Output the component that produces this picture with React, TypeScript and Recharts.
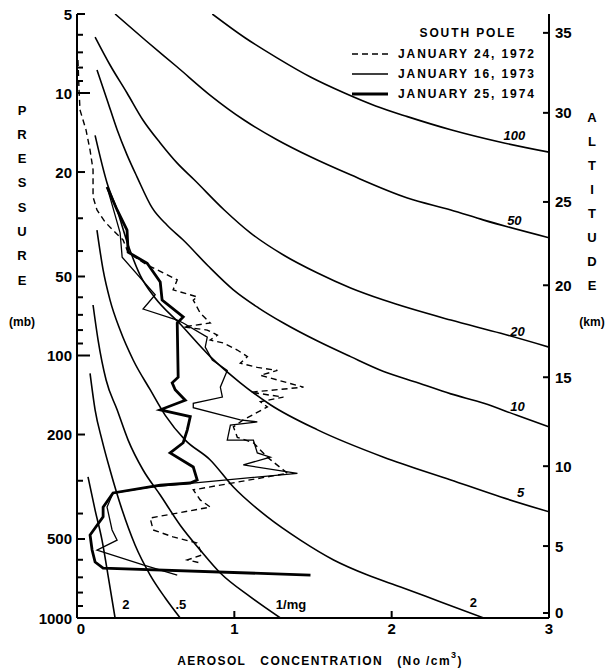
import { ComposedChart, Line, XAxis, YAxis, Legend, Label, ReferenceDot } from "recharts";

const FONT = "'Liberation Sans', Arial, sans-serif";

// pressure axis (mb), log scale
const pressureTicks = [5, 6, 7, 8, 9, 10, 20, 30, 40, 50, 60, 70, 80, 90, 100, 200, 300, 400, 500, 600, 700, 800, 900, 1000];
const pressureLabels = [5, 10, 20, 50, 100, 200, 500, 1000];

// altitude axis: km and the pressure level it sits at
const altitudeKm = [0, 5, 10, 15, 20, 25, 30, 35];
const altitudeP = [957, 532, 264, 121, 54, 26, 11.9, 5.9];

const concTicks = [0, 1, 2, 3];
const topTicks = [1, 2];

const seriesNames = ["JANUARY 24, 1972", "JANUARY 16, 1973", "JANUARY 25, 1974"];

// constant mixing ratio lines (particles per mg of air)
const mr100 = [
  { c: 0.86, p: 5 }, { c: 1.07, p: 6.17 }, { c: 1.274, p: 7.36 }, { c: 1.484, p: 8.69 },
  { c: 1.7, p: 10 }, { c: 1.898, p: 11.2 }, { c: 2.1, p: 12.3 }, { c: 2.376, p: 13.8 },
  { c: 2.694, p: 15.4 }, { c: 3.0, p: 16.8 },
];
const mr50 = [
  { c: 0.242, p: 5 }, { c: 0.433, p: 6.28 }, { c: 0.637, p: 7.96 }, { c: 0.847, p: 10.2 },
  { c: 1.064, p: 12.7 }, { c: 1.274, p: 15.1 }, { c: 1.484, p: 17.5 }, { c: 1.739, p: 20.5 },
  { c: 2.1, p: 25.1 }, { c: 2.376, p: 27.9 }, { c: 2.586, p: 30.5 }, { c: 3.0, p: 35.6 },
];
const mr20 = [
  { c: 0.115, p: 6.12 }, { c: 0.21, p: 7.82 }, { c: 0.318, p: 10 }, { c: 0.42, p: 12.7 },
  { c: 0.529, p: 15.5 }, { c: 0.637, p: 18.5 }, { c: 0.745, p: 21.4 }, { c: 0.936, p: 27.9 },
  { c: 1.102, p: 34.1 }, { c: 1.312, p: 41.4 }, { c: 1.529, p: 48.5 }, { c: 1.739, p: 55.3 },
  { c: 1.949, p: 61.5 }, { c: 2.376, p: 73.3 }, { c: 2.694, p: 82.3 }, { c: 3.0, p: 92.9 },
];
const mr10 = [
  { c: 0.127, p: 8.17 }, { c: 0.191, p: 10.6 }, { c: 0.255, p: 13.8 }, { c: 0.318, p: 17.2 },
  { c: 0.382, p: 20.9 }, { c: 0.478, p: 27.4 }, { c: 0.573, p: 31.9 }, { c: 0.675, p: 36.3 },
  { c: 0.834, p: 45.6 }, { c: 0.994, p: 56.2 }, { c: 1.153, p: 65.8 }, { c: 1.312, p: 75.2 },
  { c: 1.529, p: 88.1 }, { c: 1.739, p: 101 }, { c: 1.949, p: 115 }, { c: 2.166, p: 127 },
  { c: 2.376, p: 140 }, { c: 2.586, p: 152 }, { c: 2.796, p: 169 }, { c: 3.0, p: 187 },
];
const mr5 = [
  { c: 0.115, p: 14.5 }, { c: 0.191, p: 22 }, { c: 0.255, p: 27.9 }, { c: 0.325, p: 37.9 },
  { c: 0.401, p: 49.4 }, { c: 0.497, p: 60.4 }, { c: 0.656, p: 75.9 }, { c: 0.847, p: 101 },
  { c: 1.038, p: 127 }, { c: 1.229, p: 154 }, { c: 1.529, p: 192 }, { c: 1.949, p: 244 },
  { c: 2.376, p: 298 }, { c: 2.694, p: 346 }, { c: 3.0, p: 394 },
];
const mr2 = [
  { c: 0.127, p: 33.3 }, { c: 0.166, p: 47.2 }, { c: 0.21, p: 61.5 }, { c: 0.274, p: 80 },
  { c: 0.357, p: 104 }, { c: 0.465, p: 135 }, { c: 0.561, p: 169 }, { c: 0.688, p: 210 },
  { c: 0.847, p: 250 }, { c: 0.994, p: 317 }, { c: 1.21, p: 412 }, { c: 1.42, p: 505 },
  { c: 1.631, p: 601 }, { c: 1.847, p: 686 }, { c: 2.057, p: 762 }, { c: 2.312, p: 869 },
  { c: 2.586, p: 1000 },
];
const mr1 = [
  { c: 0.102, p: 64.2 }, { c: 0.134, p: 87.3 }, { c: 0.185, p: 124 }, { c: 0.255, p: 161 },
  { c: 0.325, p: 210 }, { c: 0.42, p: 273 }, { c: 0.529, p: 340 }, { c: 0.656, p: 443 },
  { c: 0.783, p: 551 }, { c: 0.911, p: 674 }, { c: 1.102, p: 831 }, { c: 1.293, p: 1000 },
];
const mr05 = [
  { c: 0.083, p: 117 }, { c: 0.115, p: 161 }, { c: 0.159, p: 210 }, { c: 0.21, p: 273 },
  { c: 0.287, p: 388 }, { c: 0.369, p: 527 }, { c: 0.465, p: 686 }, { c: 0.561, p: 839 },
  { c: 0.656, p: 1000 },
];
const mr02 = [
  { c: 0.07, p: 290 }, { c: 0.115, p: 388 }, { c: 0.159, p: 505 }, { c: 0.197, p: 686 },
  { c: 0.242, p: 1000 },
];
const mixingLines = [mr100, mr50, mr20, mr10, mr5, mr2, mr1, mr05, mr02];

// labels on the mixing ratio lines
const curveLabelText = ["100", "50", "20", "10", "5", "2", "1/mg", ".5", "2"];
const curveLabelC = [2.78, 2.78, 2.8, 2.8, 2.82, 2.52, 1.36, 0.66, 0.31];
const curveLabelP = [14.5, 30.5, 81, 157, 332, 872, 885, 885, 885];

// soundings
const jan1972 = [
  { c: 0.006, p: 7.48 }, { c: 0.013, p: 9.74 }, { c: 0.019, p: 11.6 }, { c: 0.057, p: 13.8 },
  { c: 0.083, p: 16.5 }, { c: 0.102, p: 19.6 }, { c: 0.102, p: 24.9 }, { c: 0.127, p: 27.9 },
  { c: 0.178, p: 31 }, { c: 0.242, p: 33.9 }, { c: 0.293, p: 36.3 }, { c: 0.318, p: 39.6 },
  { c: 0.369, p: 42.2 }, { c: 0.446, p: 45.2 }, { c: 0.51, p: 47.2 }, { c: 0.637, p: 51.5 },
  { c: 0.611, p: 56.2 }, { c: 0.764, p: 59.8 }, { c: 0.739, p: 61.5 }, { c: 0.783, p: 68.9 },
  { c: 0.847, p: 75.2 }, { c: 0.675, p: 77.8 }, { c: 0.828, p: 80 }, { c: 0.892, p: 83.6 },
  { c: 0.847, p: 87.3 }, { c: 0.93, p: 89.6 }, { c: 1.019, p: 95.3 }, { c: 1.083, p: 101 },
  { c: 1.038, p: 107 }, { c: 1.146, p: 111 }, { c: 1.274, p: 114 }, { c: 1.166, p: 119 },
  { c: 1.44, p: 132 }, { c: 1.102, p: 138 }, { c: 1.312, p: 144 }, { c: 1.166, p: 150 },
  { c: 1.21, p: 157 }, { c: 1.057, p: 176 }, { c: 0.994, p: 187 }, { c: 1.019, p: 205 },
  { c: 1.121, p: 215 }, { c: 1.21, p: 244 }, { c: 1.338, p: 281 }, { c: 0.739, p: 325 },
  { c: 0.783, p: 355 }, { c: 0.847, p: 378 }, { c: 0.465, p: 416 }, { c: 0.484, p: 462 },
  { c: 0.611, p: 491 }, { c: 0.764, p: 518 }, { c: 0.796, p: 575 }, { c: 0.701, p: 601 },
  { c: 0.783, p: 617 },
];
const jan1973 = [
  { c: 0.191, p: 22.8 }, { c: 0.242, p: 29.2 }, { c: 0.274, p: 34.1 }, { c: 0.287, p: 42.2 },
  { c: 0.497, p: 58.7 }, { c: 0.42, p: 66.5 }, { c: 0.637, p: 73.3 }, { c: 0.675, p: 75.2 },
  { c: 0.828, p: 85.1 }, { c: 0.815, p: 92.9 }, { c: 0.86, p: 104 }, { c: 0.955, p: 114 },
  { c: 0.911, p: 132 }, { c: 0.924, p: 144 }, { c: 0.739, p: 152 }, { c: 0.739, p: 158 },
  { c: 1.038, p: 176 }, { c: 1.146, p: 179 }, { c: 0.975, p: 184 }, { c: 0.955, p: 210 },
  { c: 1.121, p: 210 }, { c: 1.146, p: 235 }, { c: 1.229, p: 244 }, { c: 1.057, p: 261 },
  { c: 1.401, p: 281 }, { c: 0.465, p: 317 }, { c: 0.229, p: 334 }, { c: 0.191, p: 378 },
  { c: 0.223, p: 462 }, { c: 0.255, p: 505 }, { c: 0.127, p: 551 }, { c: 0.42, p: 628 },
  { c: 0.637, p: 686 },
];
const jan1974 = [
  { c: 0.191, p: 22.8 }, { c: 0.255, p: 27.9 }, { c: 0.318, p: 33.3 }, { c: 0.325, p: 40.4 },
  { c: 0.446, p: 44.5 }, { c: 0.529, p: 52.5 }, { c: 0.541, p: 61.5 }, { c: 0.675, p: 71.3 },
  { c: 0.637, p: 75.2 }, { c: 0.643, p: 121 }, { c: 0.605, p: 127 }, { c: 0.624, p: 135 },
  { c: 0.688, p: 148 }, { c: 0.529, p: 161 }, { c: 0.72, p: 171 }, { c: 0.701, p: 192 },
  { c: 0.675, p: 215 }, { c: 0.592, p: 235 }, { c: 0.739, p: 266 }, { c: 0.764, p: 298 },
  { c: 0.72, p: 306 }, { c: 0.529, p: 312 }, { c: 0.229, p: 334 }, { c: 0.166, p: 378 },
  { c: 0.166, p: 412 }, { c: 0.083, p: 483 }, { c: 0.096, p: 551 }, { c: 0.115, p: 612 },
  { c: 0.166, p: 646 }, { c: 1.484, p: 686 },
];

const ink = "#000";
const numStyle = { fontFamily: FONT, fontWeight: 700, fontSize: 15, fill: ink } as const;
const titleStyle = { fontFamily: FONT, fontWeight: 700, fontSize: 13, fill: ink } as const;

function LeftTick({ x, y, payload }: any) {
  const v = payload.value;
  const labelled = pressureLabels.includes(v);
  const len = v === 10 || v === 100 ? 13 : labelled ? 8 : 6;
  return (
    <g>
      <line x1={x} x2={x + len} y1={y} y2={y} stroke={ink} strokeWidth={2} />
      {labelled && (
        <text x={x - 5} y={y} textAnchor="end" dominantBaseline="central" {...numStyle}>
          {v}
        </text>
      )}
    </g>
  );
}

function RightTick({ x, y, payload }: any) {
  const i = altitudeP.indexOf(payload.value);
  return (
    <g>
      <line x1={x - 6} x2={x} y1={y} y2={y} stroke={ink} strokeWidth={2} />
      <text x={x + 6} y={y} textAnchor="start" dominantBaseline="central" {...numStyle}>
        {altitudeKm[i]}
      </text>
    </g>
  );
}

function BottomTick({ x, y, payload }: any) {
  const v = payload.value;
  const inner = v !== 0 && v !== 3;
  return (
    <g>
      {inner && <line x1={x} x2={x} y1={y} y2={y - 7} stroke={ink} strokeWidth={2} />}
      <text x={x + (v === 0 ? 4 : 0)} y={y + 10} textAnchor="middle" dominantBaseline="central" {...numStyle}>
        {v}
      </text>
    </g>
  );
}

function TopTick({ x, y }: any) {
  return <line x1={x} x2={x} y1={y} y2={y + 7} stroke={ink} strokeWidth={2} />;
}

function PressureTitle({ viewBox }: any) {
  const x = viewBox.x + 22;
  return (
    <g>
      {"PRESSURE".split("").map((ch, i) => (
        <text key={i} x={x} y={110 + i * 24.3} textAnchor="middle" dominantBaseline="central" {...titleStyle}>
          {ch}
        </text>
      ))}
      <text x={x} y={322} textAnchor="middle" dominantBaseline="central" {...titleStyle} fontSize={12}>
        (mb)
      </text>
    </g>
  );
}

function AltitudeTitle({ viewBox }: any) {
  const x = viewBox.x + 43;
  return (
    <g>
      {"ALTITUDE".split("").map((ch, i) => (
        <text key={i} x={x} y={117 + i * 24} textAnchor="middle" dominantBaseline="central" {...titleStyle}>
          {ch}
        </text>
      ))}
      <text x={x} y={322} textAnchor="middle" dominantBaseline="central" {...titleStyle} fontSize={12}>
        (km)
      </text>
    </g>
  );
}

function ConcTitle({ viewBox }: any) {
  return (
    <text
      x={viewBox.x + viewBox.width / 2 + 7}
      y={viewBox.y + 43}
      textAnchor="middle"
      dominantBaseline="central"
      {...titleStyle}
      fontSize={12}
      letterSpacing={1.4}
      style={{ whiteSpace: "pre" }}
    >
      {"AEROSOL   CONCENTRATION   (No /cm"}
      <tspan dy={-6} fontSize={9}>3</tspan>
      <tspan dy={6}>)</tspan>
    </text>
  );
}

function LegendBox() {
  const rows = [
    { dash: "6 4", w: 1.4 },
    { dash: undefined, w: 1.3 },
    { dash: undefined, w: 2.8 },
  ];
  const txt = { fontFamily: FONT, fontWeight: 700, fontSize: 12, fill: ink, letterSpacing: 1.9 };
  return (
    <svg width={210} height={90}>
      <text x={123} y={13} textAnchor="middle" dominantBaseline="central" {...txt}>
        SOUTH POLE
      </text>
      {seriesNames.map((name, i) => (
        <g key={name}>
          <line x1={7} x2={43} y1={34 + i * 20} y2={34 + i * 20} stroke={ink} strokeWidth={rows[i].w} strokeDasharray={rows[i].dash} />
          <text x={53} y={34 + i * 20} dominantBaseline="central" {...txt}>
            {name}
          </text>
        </g>
      ))}
    </svg>
  );
}

function CurveLabel({ viewBox, text, slant }: any) {
  return (
    <text
      x={viewBox.x + viewBox.width / 2}
      y={viewBox.y + viewBox.height / 2}
      textAnchor="middle"
      dominantBaseline="central"
      fontFamily={FONT}
      fontWeight={700}
      fontSize={13}
      fontStyle={slant ? "italic" : "normal"}
      fill={ink}
    >
      {text}
    </text>
  );
}

export default function App() {
  return (
    <div style={{ position: "absolute", left: 0, top: 0, width: 615, height: 669, background: "#fff" }}>
      <ComposedChart width={615} height={669} margin={{ top: 14, right: 0, bottom: 0, left: 0 }}>
        <XAxis
          xAxisId="bottom"
          type="number"
          dataKey="c"
          domain={[0, 3]}
          ticks={concTicks}
          interval={0}
          height={51}
          tickSize={0}
          tickMargin={0}
          tickLine={false}
          tick={<BottomTick />}
          axisLine={{ stroke: ink, strokeWidth: 2 }}
          allowDataOverflow
        >
          <Label content={<ConcTitle />} />
        </XAxis>
        <XAxis
          xAxisId="top"
          orientation="top"
          type="number"
          dataKey="c"
          domain={[0, 3]}
          ticks={topTicks}
          interval={0}
          height={0}
          tickSize={0}
          tickMargin={0}
          tickLine={false}
          tick={<TopTick />}
          axisLine={{ stroke: ink, strokeWidth: 2 }}
          allowDataOverflow
        />
        <YAxis
          yAxisId="left"
          type="number"
          dataKey="p"
          scale="log"
          domain={[5, 1000]}
          reversed
          allowDataOverflow
          ticks={pressureTicks}
          interval={0}
          width={77}
          tickSize={0}
          tickMargin={0}
          tickLine={false}
          tick={<LeftTick />}
          axisLine={{ stroke: ink, strokeWidth: 2 }}
        >
          <Label content={<PressureTitle />} />
        </YAxis>
        <YAxis
          yAxisId="right"
          orientation="right"
          type="number"
          scale="log"
          domain={[5, 1000]}
          reversed
          allowDataOverflow
          ticks={altitudeP}
          interval={0}
          width={66}
          tickSize={0}
          tickMargin={0}
          tickLine={false}
          tick={<RightTick />}
          axisLine={{ stroke: ink, strokeWidth: 2 }}
        >
          <Label content={<AltitudeTitle />} />
        </YAxis>

        {mixingLines.map((d, i) => (
          <Line
            key={`mr${i}`}
            xAxisId="bottom"
            yAxisId="left"
            data={d}
            dataKey="p"
            type="monotoneX"
            stroke={ink}
            strokeWidth={1.6}
            dot={false}
            activeDot={false}
            legendType="none"
            isAnimationActive={false}
          />
        ))}
        <Line xAxisId="bottom" yAxisId="left" data={jan1972} dataKey="p" name={seriesNames[0]} type="linear" stroke={ink} strokeWidth={1.4} strokeDasharray="6 4" dot={false} activeDot={false} isAnimationActive={false} />
        <Line xAxisId="bottom" yAxisId="left" data={jan1973} dataKey="p" name={seriesNames[1]} type="linear" stroke={ink} strokeWidth={1.3} dot={false} activeDot={false} isAnimationActive={false} />
        <Line xAxisId="bottom" yAxisId="left" data={jan1974} dataKey="p" name={seriesNames[2]} type="linear" stroke={ink} strokeWidth={2.8} dot={false} activeDot={false} isAnimationActive={false} />

        {curveLabelText.map((t, i) => (
          <ReferenceDot
            key={`lbl${i}`}
            xAxisId="bottom"
            yAxisId="left"
            x={curveLabelC[i]}
            y={curveLabelP[i]}
            r={0}
            fill="none"
            stroke="none"
            label={<CurveLabel text={t} slant={i < 5} />}
          />
        ))}

        <Legend
          layout="horizontal"
          verticalAlign="middle"
          align="center"
          content={<LegendBox />}
          wrapperStyle={{ left: 345, top: 20, width: 210, height: 90 }}
        />
      </ComposedChart>
    </div>
  );
}
